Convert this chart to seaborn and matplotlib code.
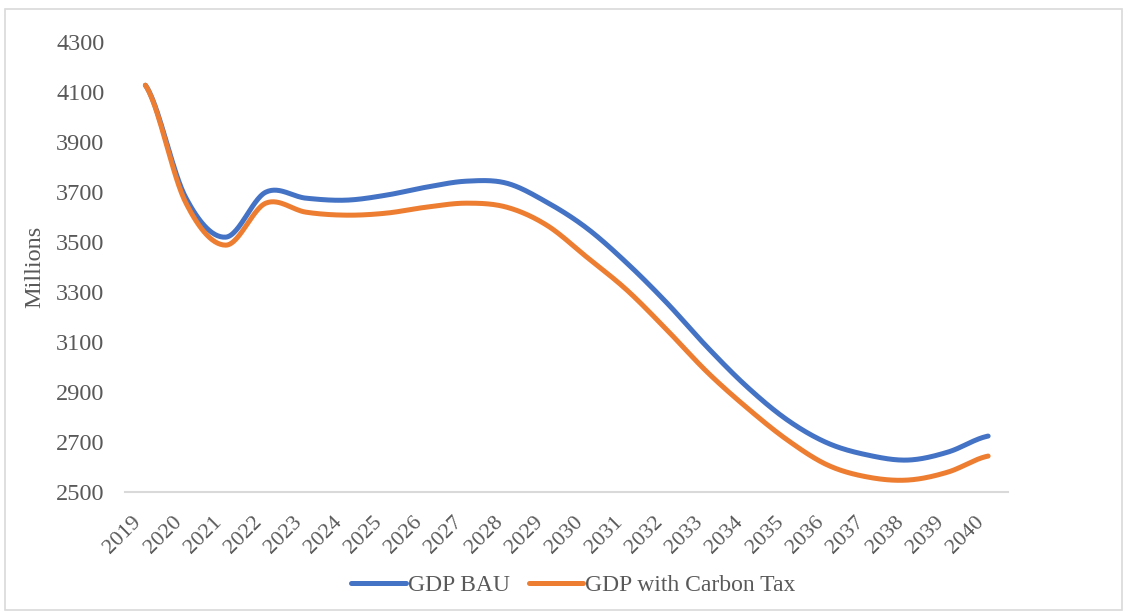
import numpy as np
import pandas as pd
import seaborn as sns
import matplotlib.pyplot as plt
from matplotlib.patches import Rectangle

years = list(range(2019, 2041))
gdp_bau = [4128, 3680, 3520, 3700, 3676, 3668, 3688, 3720, 3744, 3736, 3660,
           3556, 3416, 3256, 3080, 2920, 2788, 2696, 2648, 2628, 2660, 2724]
gdp_tax = [4128, 3660, 3488, 3656, 3620, 3608, 3616, 3640, 3656, 3640, 3568,
           3440, 3308, 3148, 2980, 2836, 2708, 2608, 2560, 2548, 2580, 2644]
y_ticks = list(range(2500, 4301, 200))


def smooth(y, n=30):
    # Excel-like smoothed line (Catmull-Rom through the category points)
    y = np.asarray(y, dtype=float)
    p = np.concatenate([[y[0]], y, [y[-1]]])
    xs, ys = [], []
    for i in range(len(y) - 1):
        p0, p1, p2, p3 = p[i], p[i + 1], p[i + 2], p[i + 3]
        t = np.linspace(0, 1, n, endpoint=False)
        yy = 0.5 * ((2 * p1) + (-p0 + p2) * t + (2 * p0 - 5 * p1 + 4 * p2 - p3) * t**2
                    + (-p0 + 3 * p1 - 3 * p2 + p3) * t**3)
        xs.append(i + t)
        ys.append(yy)
    xs.append([len(y) - 1])
    ys.append([y[-1]])
    return np.concatenate(xs), np.concatenate(ys)


frames = []
for name, vals in [('GDP BAU', gdp_bau), ('GDP with Carbon Tax', gdp_tax)]:
    sx, sy = smooth(vals)
    frames.append(pd.DataFrame({'x': sx, 'value': sy, 'series': name}))
df = pd.concat(frames, ignore_index=True)

sns.set_style("white")
plt.rcParams['font.family'] = ['Liberation Serif', 'DejaVu Serif']
text_color = '#595959'

fig = plt.figure(figsize=(11.29, 6.12), dpi=100)
ax = fig.add_axes([0.111, 0.196, 0.782, 0.735])

sns.lineplot(data=df, x='x', y='value', hue='series', sort=False,
             palette={'GDP BAU': '#4472C4', 'GDP with Carbon Tax': '#ED7D31'},
             linewidth=3.6, ax=ax, legend=True)

ax.set_xlim(-0.5, len(years) - 0.5)
ax.set_ylim(2500, 4300)
ax.set_yticks(y_ticks)
ax.set_yticklabels([str(v) for v in y_ticks], fontsize=17.5, color=text_color)
ax.set_xticks(range(len(years)))
ax.set_xticklabels([str(y) for y in years], rotation=45, ha='right', va='top',
                   fontsize=16, color=text_color)
ax.tick_params(axis='both', length=0)
ax.tick_params(axis='x', pad=15)
ax.tick_params(axis='y', pad=15)
ax.set_xlabel('')
ax.set_ylabel('Millions', fontsize=17.5, color=text_color, labelpad=8)

for s in ['top', 'right', 'left']:
    ax.spines[s].set_visible(False)
ax.spines['bottom'].set_color('#D9D9D9')
ax.spines['bottom'].set_linewidth(1.5)

leg = ax.legend(loc='center', bbox_to_anchor=(0.508, 0.043), bbox_transform=fig.transFigure,
                ncol=2, frameon=False, fontsize=17, handlelength=2.3,
                columnspacing=0.8, handletextpad=0.1)
for t in leg.get_texts():
    t.set_color(text_color)
for h in leg.get_lines():
    h.set_linewidth(3.6)
    h.set_solid_capstyle('round')

fig.patches.append(Rectangle((0.004, 0.003), 0.99, 0.982, transform=fig.transFigure,
                             fill=False, edgecolor='#D9D9D9', linewidth=1.2))

plt.savefig('out.png', dpi=100)
